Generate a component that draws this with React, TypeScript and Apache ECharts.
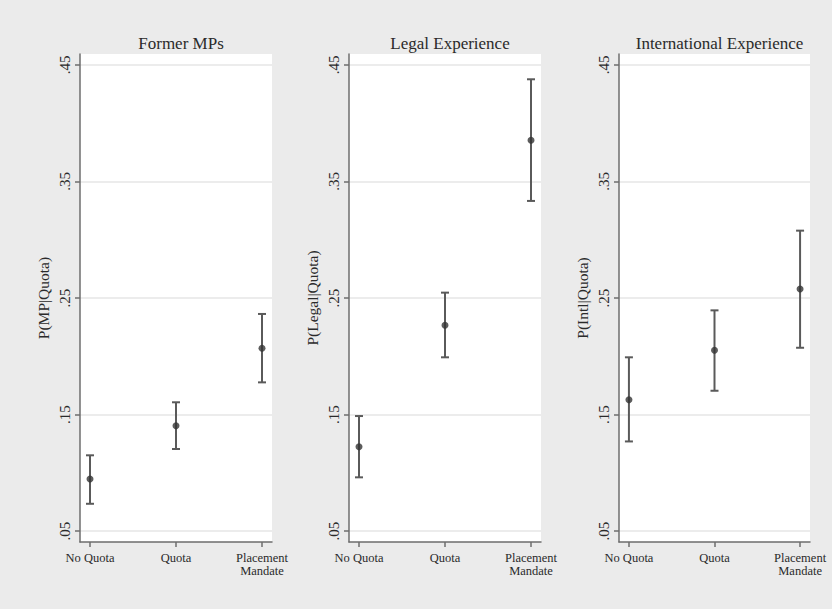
import React, { useEffect, useRef } from "react";
import * as echarts from "echarts";

const categories = ["No Quota", "Quota", "Placement\nMandate"];
const panelTitles = ["Former MPs", "Legal Experience", "International Experience"];
const yNames = ["P(MP|Quota)", "P(Legal|Quota)", "P(Intl|Quota)"];
const yTicks = [0.05, 0.15, 0.25, 0.35, 0.45];

const mpEst = [0.0946, 0.1404, 0.2068];
const mpLo = [0.0734, 0.1204, 0.1776];
const mpHi = [0.115, 0.1605, 0.2363];

const legalEst = [0.1224, 0.2266, 0.3854];
const legalLo = [0.0961, 0.1991, 0.3333];
const legalHi = [0.1487, 0.2546, 0.4377];

const intlEst = [0.1627, 0.2051, 0.2577];
const intlLo = [0.1269, 0.1704, 0.2073];
const intlHi = [0.1991, 0.2394, 0.3078];

const panels = [
  { est: mpEst, lo: mpLo, hi: mpHi },
  { est: legalEst, lo: legalLo, hi: legalHi },
  { est: intlEst, lo: intlLo, hi: intlHi },
];

const FONT = "'Liberation Serif', 'DejaVu Serif', serif";
const gridLefts = [80, 349, 619];
const gridWidths = [192, 192, 191];

export default function App() {
  const ref = useRef<HTMLDivElement>(null);
  useEffect(() => {
    if (!ref.current) return;
    const chart = echarts.init(ref.current, null, { renderer: "svg" });
    const grids: any[] = [];
    const xAxes: any[] = [];
    const yAxes: any[] = [];
    const series: any[] = [];
    const titles: any[] = [];
    panels.forEach((p, i) => {
      grids.push({
        left: gridLefts[i],
        width: gridWidths[i],
        top: 54,
        height: 488,
        show: true,
        backgroundColor: "#ffffff",
        borderWidth: 0,
      });
      titles.push({
        text: panelTitles[i],
        left: gridLefts[i] + gridWidths[i] / 2,
        top: 30,
        textAlign: "center",
        textStyle: { fontFamily: FONT, fontSize: 17, fontWeight: "normal", color: "#2a2a2a" },
      });
      xAxes.push({
        type: "value",
        gridIndex: i,
        min: -0.116,
        max: 2.116,
        axisLine: { show: true, onZero: false, lineStyle: { color: "#6e6e6e", width: 1.5 } },
        axisTick: { show: true, length: 5, customValues: [0, 1, 2], lineStyle: { color: "#6e6e6e", width: 1.5 } },
        axisLabel: {
          customValues: [0, 1, 2],
          formatter: (v: number) => categories[Math.round(v)] ?? "",
          fontFamily: FONT,
          fontSize: 12.5,
          color: "#2a2a2a",
          lineHeight: 13,
          margin: 9,
        },
        splitLine: { show: false },
      });
      yAxes.push({
        type: "value",
        gridIndex: i,
        min: 0.0406,
        max: 0.4594,
        name: yNames[i],
        nameLocation: "middle",
        nameGap: 29,
        nameTextStyle: { fontFamily: FONT, fontSize: 15.5, color: "#2a2a2a" },
        axisLine: { show: true, onZero: false, lineStyle: { color: "#6e6e6e", width: 1.5 } },
        axisTick: { show: true, length: 5, customValues: yTicks, lineStyle: { color: "#6e6e6e", width: 1.5 } },
        axisLabel: {
          customValues: yTicks,
          rotate: 90,
          formatter: (v: number) => "." + String(Math.round(v * 100)).padStart(2, "0"),
          fontFamily: FONT,
          fontSize: 15,
          color: "#2a2a2a",
          margin: 8,
        },
        splitLine: { show: true, lineStyle: { color: "#e6e6e6", width: 1.5 } },
      });
      series.push({
        type: "custom",
        xAxisIndex: i,
        yAxisIndex: i,
        data: p.est.map((_, k) => [k, p.lo[k], p.hi[k]]),
        encode: { x: 0, y: [1, 2] },
        renderItem: (params: any, api: any) => {
          const x = api.value(0);
          const a = api.coord([x, api.value(1)]);
          const b = api.coord([x, api.value(2)]);
          const w = 4;
          const style = { stroke: "#5a5a5a", lineWidth: 2 };
          return {
            type: "group",
            children: [
              { type: "line", shape: { x1: a[0], y1: a[1], x2: b[0], y2: b[1] }, style },
              { type: "line", shape: { x1: a[0] - w, y1: a[1], x2: a[0] + w, y2: a[1] }, style },
              { type: "line", shape: { x1: b[0] - w, y1: b[1], x2: b[0] + w, y2: b[1] }, style },
            ],
          };
        },
        z: 2,
      });
      series.push({
        type: "scatter",
        xAxisIndex: i,
        yAxisIndex: i,
        data: p.est.map((v, k) => [k, v]),
        symbol: "circle",
        symbolSize: 7,
        itemStyle: { color: "#333333" },
        z: 3,
      });
    });
    chart.setOption({
      animation: false,
      backgroundColor: "#ebebeb",
      title: titles,
      grid: grids,
      xAxis: xAxes,
      yAxis: yAxes,
      series,
    });
    return () => chart.dispose();
  }, []);
  return (
    <div
      ref={ref}
      style={{ position: "fixed", left: 0, top: 0, width: 832, height: 609 }}
    />
  );
}
